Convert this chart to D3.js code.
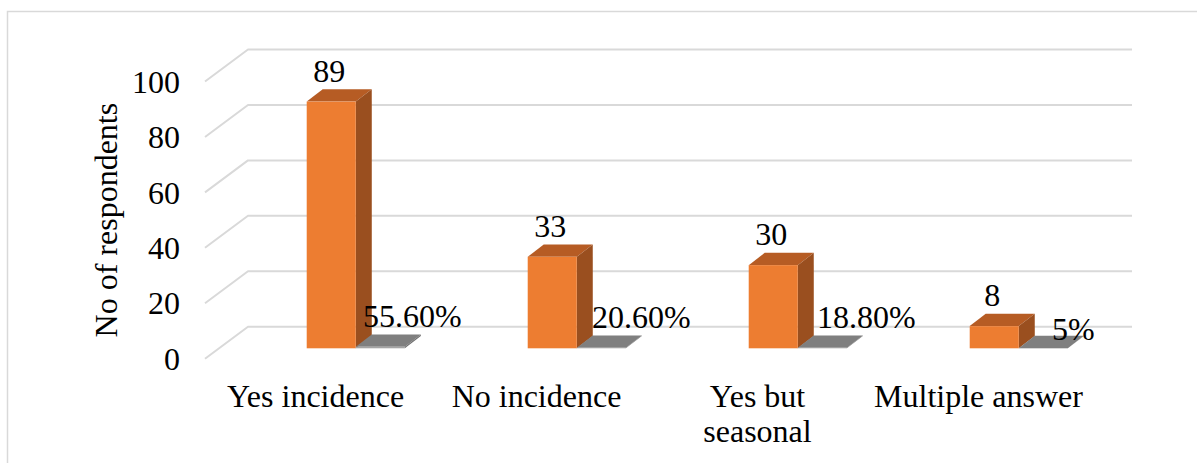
<!DOCTYPE html>
<html>
<head>
<meta charset="utf-8">
<script src="https://cdn.jsdelivr.net/npm/d3@7"></script>
<style>
  html, body { margin: 0; padding: 0; background: #fff; }
  svg { display: block; }
  text { font-family: "Liberation Serif", "Times New Roman", serif; fill: #000; }
</style>
</head>
<body>
<svg id="chart" width="1197" height="463"></svg>
<script>
// Survey responses: number of respondents per answer and share of the total
const categories = ["Yes incidence", "No incidence", "Yes but seasonal", "Multiple answer"];
const categoryLines = [["Yes incidence"], ["No incidence"], ["Yes but", "seasonal"], ["Multiple answer"]];
const respondents = [89, 33, 30, 8];
const sharePercent = [55.6, 20.6, 18.8, 5];
const yTicks = [0, 20, 40, 60, 80, 100];
const yTitle = "No of respondents";

const svg = d3.select("#chart");
const W = 1197, H = 463;

// Chart frame
svg.append("rect")
  .attr("x", 7.5).attr("y", 11.5)
  .attr("width", W).attr("height", H)
  .attr("fill", "#fff").attr("stroke", "#d9d9d9").attr("stroke-width", 1.5);

// Back wall scales
const y = d3.scaleLinear().domain([0, 100]).range([326.7, 49.5]);
const x = d3.scaleBand().domain(categories).range([248, 1132]);

// Oblique projection: floor depth vector (back -> front)
const floorDx = -43, floorDy = 32;
// Bars sit part way into the floor and have their own depth
const barFront = 0.675;           // fraction of floor depth to the bar front
const barDepthDx = 16, barDepthDy = -12.3;
const barW = x.bandwidth() * 0.222;
const barInset = x.bandwidth() * 0.397; // offset of the first bar inside its band (back wall)

// Gridlines: side-wall diagonal + back-wall horizontal
const gridLine = d3.line();
svg.append("g").selectAll("path")
  .data(yTicks)
  .join("path")
  .attr("d", v => gridLine([
    [x.range()[0] + floorDx, y(v) + floorDy],
    [x.range()[0], y(v)],
    [x.range()[1], y(v)]
  ]))
  .attr("fill", "none")
  .attr("stroke", "#d9d9d9")
  .attr("stroke-width", 2)
  .attr("stroke-linejoin", "round");

// Y tick labels on the front edge of the side wall
svg.append("g").selectAll("text")
  .data(yTicks)
  .join("text")
  .attr("x", x.range()[0] + floorDx - 25)
  .attr("y", v => y(v) + floorDy)
  .attr("dy", "0.35em")
  .attr("text-anchor", "end")
  .attr("font-size", 32)
  .text(v => v);

// Y axis title
svg.append("text")
  .attr("transform", `translate(106,${(y(0) + y(100)) / 2 + floorDy})` + " rotate(-90)")
  .attr("dy", "0.35em")
  .attr("text-anchor", "middle")
  .attr("font-size", 32)
  .text(yTitle);

// Draws one 3D column: front face, top face and right side face
function column(g, left, value, colors) {
  const offX = floorDx * barFront, offY = floorDy * barFront;
  const x0 = left + offX, x1 = x0 + barW;
  const yb = y(0) + offY, yt = y(value) + offY;
  const poly = pts => "M" + pts.map(p => p.join(",")).join("L") + "Z";
  g.append("path")
    .attr("d", poly([[x0, yt], [x1, yt], [x1 + barDepthDx, yt + barDepthDy], [x0 + barDepthDx, yt + barDepthDy]]))
    .attr("fill", colors.top);
  g.append("path")
    .attr("d", poly([[x1, yt], [x1, yb], [x1 + barDepthDx, yb + barDepthDy], [x1 + barDepthDx, yt + barDepthDy]]))
    .attr("fill", colors.side);
  g.append("rect")
    .attr("x", x0).attr("y", yt)
    .attr("width", barW).attr("height", Math.max(0, yb - yt))
    .attr("fill", colors.front);
  return { cx: (x0 + x1) / 2, top: yt };
}

const orange = { front: "#ED7D31", top: "#B65C24", side: "#9A4F1F" };
const grey = { front: "#A5A5A5", top: "#7F7F7F", side: "#6F6F6F" };

const fmtPct = v => (Number.isInteger(v) ? v : v.toFixed(2)) + "%";
// Horizontal / vertical placement of the percentage labels next to each bar
const pctLabelShift = [[32, 0], [40, 0], [44, 0], [30, 12]];

const bars = svg.append("g");
const labels = svg.append("g");
categories.forEach((c, i) => {
  const g = bars.append("g");
  const left = x(c) + barInset;
  const a = column(g, left, respondents[i], orange);
  const b = column(g, left + barW, sharePercent[i] / 100, grey);

  labels.append("text")
    .attr("x", a.cx - 2).attr("y", a.top - 20)
    .attr("text-anchor", "middle")
    .attr("font-size", 32)
    .text(respondents[i]);

  labels.append("text")
    .attr("x", b.cx + pctLabelShift[i][0]).attr("y", b.top - 20 + pctLabelShift[i][1])
    .attr("text-anchor", "middle")
    .attr("font-size", 32)
    .text(fmtPct(sharePercent[i]));
});

// Category labels along the front edge of the floor
svg.append("g").selectAll("text")
  .data(categories)
  .join("text")
  .attr("x", c => x(c) + x.bandwidth() / 2 + floorDx)
  .attr("y", y(0) + floorDy + 48)
  .attr("text-anchor", "middle")
  .attr("font-size", 32)
  .each(function (c, i) {
    const t = d3.select(this);
    categoryLines[i].forEach((ln, k) => {
      t.append("tspan")
        .attr("x", t.attr("x"))
        .attr("dy", k === 0 ? 0 : 35)
        .text(ln);
    });
  });
</script>
</body>
</html>
